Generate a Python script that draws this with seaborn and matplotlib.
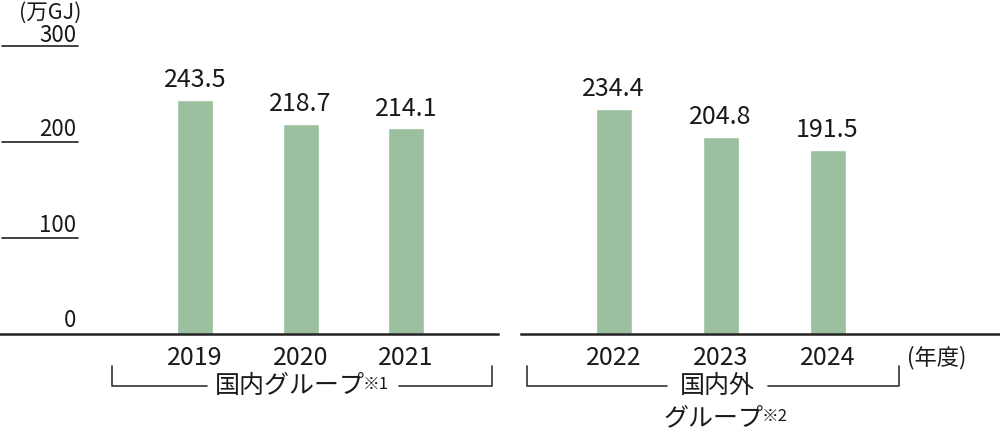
import matplotlib
matplotlib.use("Agg")
import matplotlib.pyplot as plt
import matplotlib.transforms as mtransforms
import seaborn as sns
import pandas as pd

# data
years_domestic = ["2019", "2020", "2021"]
values_domestic = [243.5, 218.7, 214.1]
years_global = ["2022", "2023", "2024"]
values_global = [234.4, 204.8, 191.5]
ytick_values = [0, 100, 200, 300]

bar_color = "#9bbf9f"
text_color = "#1a1a1a"

sns.set_theme(style="white")
plt.rcParams["font.family"] = ["Noto Sans CJK JP", "DejaVu Sans"]

W, H = 1000, 435
fig = plt.figure(figsize=(W / 100, H / 100), dpi=100)

base_px = 335
ymax = base_px / 0.96  # 100 units ~ 96 px


def px_axes(x0, x1):
    return fig.add_axes([x0 / W, (H - base_px) / H, (x1 - x0) / W, base_px / H])


def draw_panel(ax, years, values, first_px, step_px, x0, x1):
    df = pd.DataFrame({"year": years, "value": values})
    sns.barplot(data=df, x="year", y="value", ax=ax, color=bar_color,
                width=36 / step_px, saturation=1)
    ax.set_xlim((x0 - first_px) / step_px, (x1 - first_px) / step_px)
    ax.set_ylim(0, ymax)
    for s in ["top", "right", "left"]:
        ax.spines[s].set_visible(False)
    ax.spines["bottom"].set_color("#222222")
    ax.spines["bottom"].set_linewidth(1.8)
    ax.set_xticks([])
    ax.set_yticks([])
    ax.set_xlabel("")
    ax.set_ylabel("")
    ax.patch.set_alpha(0)
    # value labels
    for i, v in enumerate(values):
        ax.text(i, v + 14.5, f"{v:.1f}", ha="center", va="baseline",
                fontsize=18, color=text_color)
    # year labels under the axis
    tr = mtransforms.blended_transform_factory(ax.transData, fig.transFigure)
    for i, y in enumerate(years):
        ax.text(i, 1 - 365 / H, y, ha="center", va="baseline", transform=tr,
                fontsize=18, color=text_color)


ax1 = px_axes(0, 498)
draw_panel(ax1, years_domestic, values_domestic, 195, 105.5, 0, 498)
ax2 = px_axes(521, 1000)
draw_panel(ax2, years_global, values_global, 613.5, 107, 521, 1000)

# y tick marks: short lines with labels above
tr_y = mtransforms.blended_transform_factory(fig.transFigure, ax1.transData)
for v in ytick_values:
    if v > 0:
        ax1.plot([2 / W, 78 / W], [v, v], transform=tr_y, color="#333333",
                 lw=1.3, clip_on=False)
        off = 5.5 if v == 300 else 7
    else:
        off = 8.3
    ax1.text(76 / W, v + off, str(v), transform=tr_y, ha="right", va="baseline",
             fontsize=16, color=text_color)

# overlay for unit labels and group brackets (pixel coordinates)
ov = fig.add_axes([0, 0, 1, 1])
ov.set_xlim(0, W)
ov.set_ylim(H, 0)
ov.axis("off")
ov.patch.set_alpha(0)

ov.text(50, 19, "(万GJ)", ha="center", va="baseline", fontsize=15.5, color=text_color)
ov.text(937, 364, "(年度)", ha="center", va="baseline", fontsize=16, color=text_color)

lc = "#333333"
# domestic bracket
ov.plot([112, 112, 207], [367, 387, 387], color=lc, lw=1.2)
ov.plot([399, 492, 492], [387, 387, 367], color=lc, lw=1.2)
ov.text(365, 393, "国内グループ", ha="right", va="baseline", fontsize=18, color=text_color)
ov.text(363, 389, "※1", ha="left", va="baseline", fontsize=12, color=text_color)

# global bracket
ov.plot([527, 527, 667], [367, 387, 387], color=lc, lw=1.2)
ov.plot([768, 899, 899], [387, 387, 367], color=lc, lw=1.2)
ov.text(717, 393, "国内外", ha="center", va="baseline", fontsize=18, color=text_color)
ov.text(764, 425, "グループ", ha="right", va="baseline", fontsize=18, color=text_color)
ov.text(762, 421, "※2", ha="left", va="baseline", fontsize=12, color=text_color)

fig.savefig("out.png", dpi=100)
